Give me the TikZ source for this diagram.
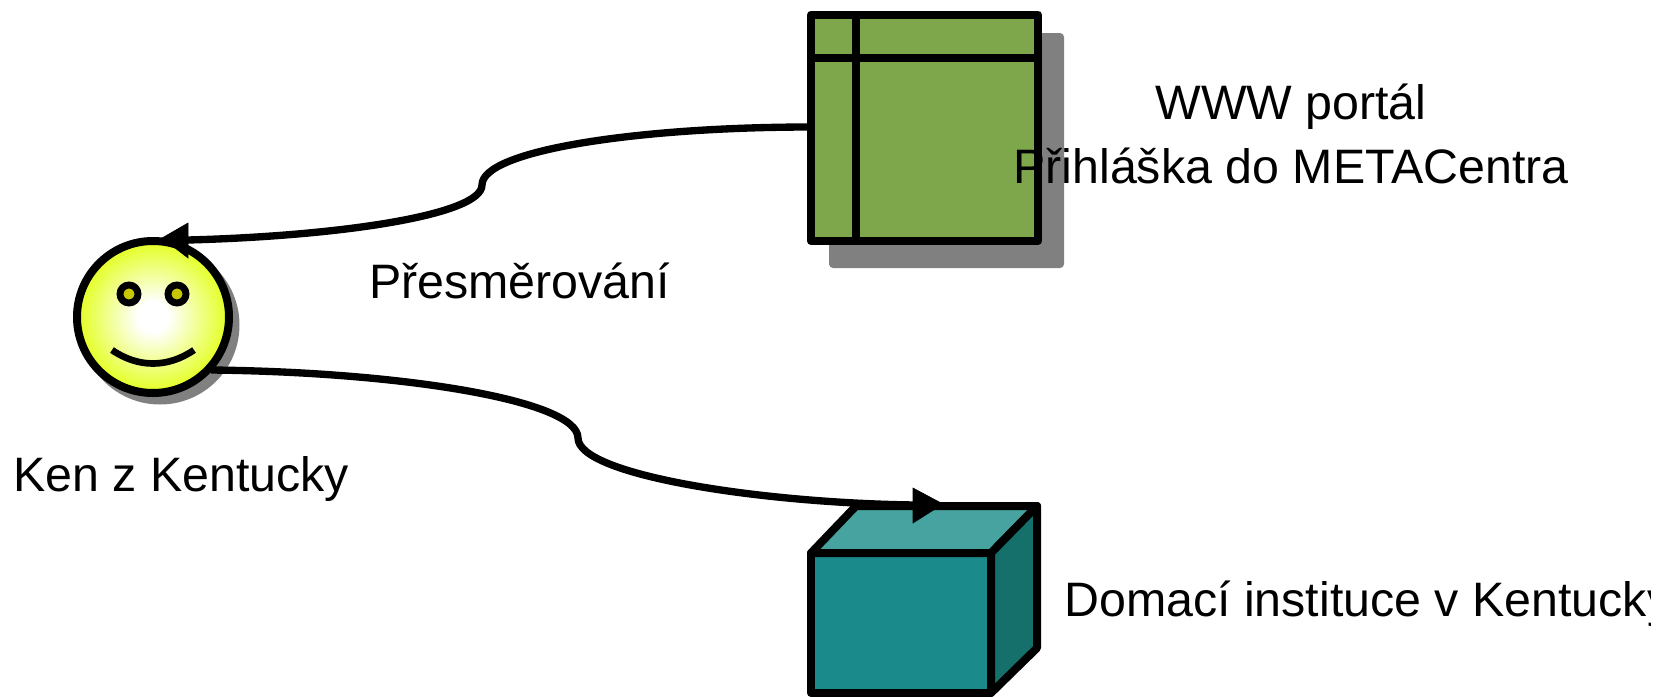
\documentclass[tikz,border=0pt]{standalone}
\usepackage{fontspec}
\setmainfont{Liberation Sans}
\pgfdeclareradialshading{smileyface}{\pgfpointorigin}{rgb(0bp)=(1,1,1);rgb(5bp)=(1,1,1);rgb(25bp)=(.89,1,.12);rgb(50bp)=(.89,1,.12)}
\begin{document}
\begin{tikzpicture}[x=0.75pt,y=0.75pt,yscale=-1,xscale=1,
  outline/.style={line width=6pt,line join=round},
  connector/.style={line width=5.5pt},
  shadow/.style={fill={rgb, 255:red, 128; green, 128; blue, 128}},
  label/.style={font=\fontsize{36.25pt}{48pt}\selectfont,inner sep=0.75pt}]
\useasboundingbox (0,0) rectangle (1662,696);

%Shape: Portal shadow
\fill [shadow,rounded corners=3pt] (829,33) rectangle (1064,268);
%Shape: Portal window
\draw [outline,fill={rgb, 255:red, 126; green, 166; blue, 74}] (811,14.5) rectangle (1038,241);
\draw [outline] (856,14.5) -- (856,241) (811,58) -- (1038,58);

%Shape: Home institute cube
\draw [outline,fill={rgb, 255:red, 26; green, 138; blue, 138}] (811,553) rectangle (991,693);
\draw [outline,fill={rgb, 255:red, 70; green, 163; blue, 160}] (811,553) -- (856,506) -- (1037,506) -- (991,553) -- cycle;
\draw [outline,fill={rgb, 255:red, 21; green, 112; blue, 108}] (991,553) -- (1037,506) -- (1037,648) -- (991,693) -- cycle;

%Shape: Smiley
\fill [shadow] (160,325) circle (79.5);
\shade [shading=smileyface] (153,317) circle (76);
\draw [outline] (153,317) circle (76);
\draw [line width=5.2pt,fill={rgb, 255:red, 200; green, 200; blue, 0}] (129,294) circle (9) (177,294) circle (9);
\draw [line width=5pt] (112,350) .. controls (138,368) and (168,368) .. (194,350);

\coordinate (portal) at (811,127);
\coordinate (bend1) at (482,185);
\coordinate (ken1) at (188,240);
\coordinate (ken2) at (211,370);
\coordinate (bend2) at (578,438);
\coordinate (institute) at (915,505);

%Straight Lines
\draw [connector] (portal) .. controls (640,127) and (482,150) .. (bend1) .. controls (482,215) and (340,236) .. (ken1);
\draw [shift={(162,238)}] [fill=black] (0,0) -- (26,-15) -- (26,20) -- cycle;
%Straight Lines
\draw [connector] (ken2) .. controls (400,372) and (578,400) .. (bend2) .. controls (578,475) and (760,503) .. (institute);
\draw [shift={(943,504)}] [fill=black] (0,0) -- (-30,-16) -- (-30,19) -- cycle;

% Text Node
\draw (1291,183.5) node (portaltext) [anchor=base,label,align=center] {WWW portál\\Přihláška do METACentra};
% Text Node
\draw (368,298) node (redirect) [anchor=base west,label] {Přesměrování};
% Text Node
\draw (12,491) node (kentext) [anchor=base west,label] {Ken z Kentucky};
% Text Node
\begin{scope}
\clip (0,0) rectangle (1650,696);
\draw (1063,616) node (institutetext) [anchor=base west,label] {Domací instituce v Kentucky};
\end{scope}

\end{tikzpicture}
\end{document}
